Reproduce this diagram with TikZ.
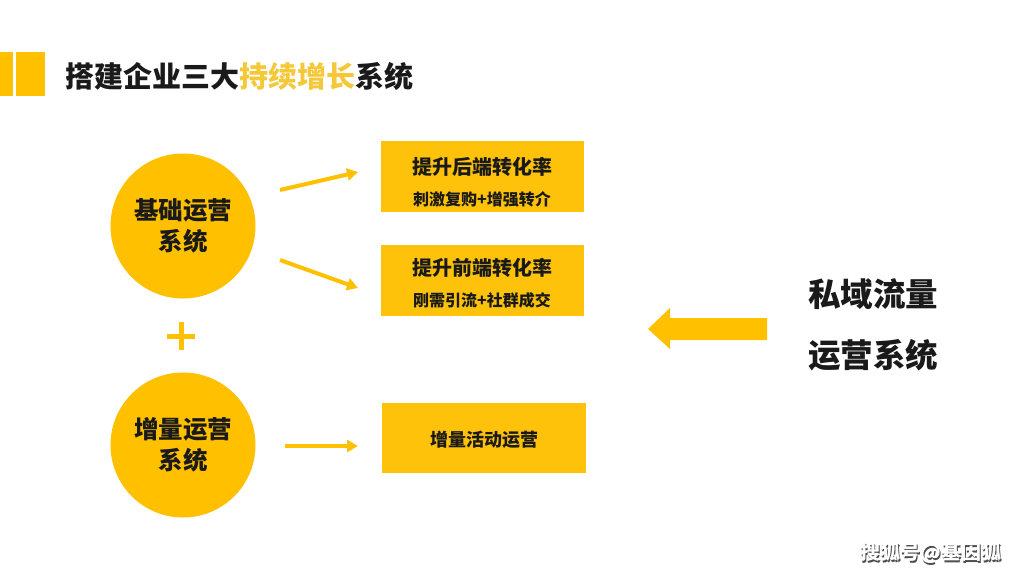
\documentclass[tikz,border=0pt]{standalone}
\usepackage{fontspec}
\newfontfamily\cjk{Noto Sans CJK SC}
\usetikzlibrary{arrows.meta}
\definecolor{ylw}{HTML}{FFC000}
\definecolor{ylwbox}{HTML}{FEC20A}
\definecolor{ylwtxt}{HTML}{F5C83A}
\definecolor{txt}{HTML}{1A1A1A}
\tikzset{
  circ/.style={circle,fill=ylw,minimum size=145pt,inner sep=0pt,align=center,font=\cjk\bfseries\fontsize{24.5}{31}\selectfont,text=txt},
  ybox/.style={fill=ylwbox,minimum width=203pt,minimum height=71pt,inner sep=0pt,anchor=north west},
  conn/.style={draw=ylw,line width=4pt,-{Triangle[length=11pt,width=12pt]}},
  boxhead/.style={font=\cjk\bfseries\fontsize{20}{24}\selectfont,text=txt},
  boxsub/.style={font=\cjk\bfseries\fontsize{16}{20}\selectfont,text=txt},
  bigtxt/.style={anchor=west,inner sep=0pt,font=\cjk\bfseries\fontsize{32.5}{36}\selectfont,text=txt},
}
\begin{document}
\begin{tikzpicture}[x=1pt,y=-1pt]
\useasboundingbox (0,0) rectangle (1024,576);
\fill[white] (0,0) rectangle (1024,576);
% title bars
\fill[ylw] (0,52) rectangle (13,96);
\fill[ylw] (16,52) rectangle (45,96);
\node[anchor=west,inner sep=0pt,font=\cjk\bfseries\fontsize{29}{32}\selectfont,text=txt] (title) at (65,76)
  {搭建企业三大\textcolor{ylwtxt}{持续增长}系统};
% circles
\node[circ] (c1) at (183,226) {基础运营\\系统};
\node[circ] (c2) at (183,445) {增量运营\\系统};
% plus
\node (plus) at (181,336) {};
\draw[ylw,line width=5pt] (167,336) -- (195,336);
\draw[ylw,line width=5pt] (181,322) -- (181,350);
% boxes
\node[ybox] (b1) at (381,141) {};
\node[ybox] (b2) at (381,245) {};
\node[ybox,minimum width=204pt,minimum height=70pt] (b3) at (382,403) {};
\node[boxhead] (b1h) at (482,167) {提升后端转化率};
\node[boxsub] (b1s) at (482,199) {刺激复购+增强转介};
\node[boxhead] (b2h) at (482,268) {提升前端转化率};
\node[boxsub] (b2s) at (482,300) {刚需引流+社群成交};
\node[font=\cjk\bfseries\fontsize{18}{22}\selectfont,text=txt] (b3h) at (484,440) {增量活动运营};
% connectors
\coordinate (a1s) at (280,190);
\coordinate (a1e) at (358,172);
\coordinate (a2s) at (280,260);
\coordinate (a2e) at (358,288);
\coordinate (a3s) at (285,446);
\coordinate (a3e) at (358,446);
\draw[conn] (a1s) -- (a1e);
\draw[conn] (a2s) -- (a2e);
\draw[conn] (a3s) -- (a3e);
% big left arrow
\fill[ylw] (767,318) -- (670,318) -- (670,308) -- (648,329) -- (670,349) -- (670,340) -- (767,340) -- cycle;
% right text
\node[bigtxt] (r1) at (808,294) {私域流量};
\node[bigtxt] (r2) at (808,355) {运营系统};
% watermark
\node[anchor=west,inner sep=0pt,font=\cjk\bfseries\fontsize{20}{24}\selectfont,text=black!70] at (861.5,554.5) {搜狐号@基因狐};
\node[anchor=west,inner sep=0pt,font=\cjk\bfseries\fontsize{20}{24}\selectfont,text=white] (wm) at (860,553) {搜狐号@基因狐};
\end{tikzpicture}
\end{document}
